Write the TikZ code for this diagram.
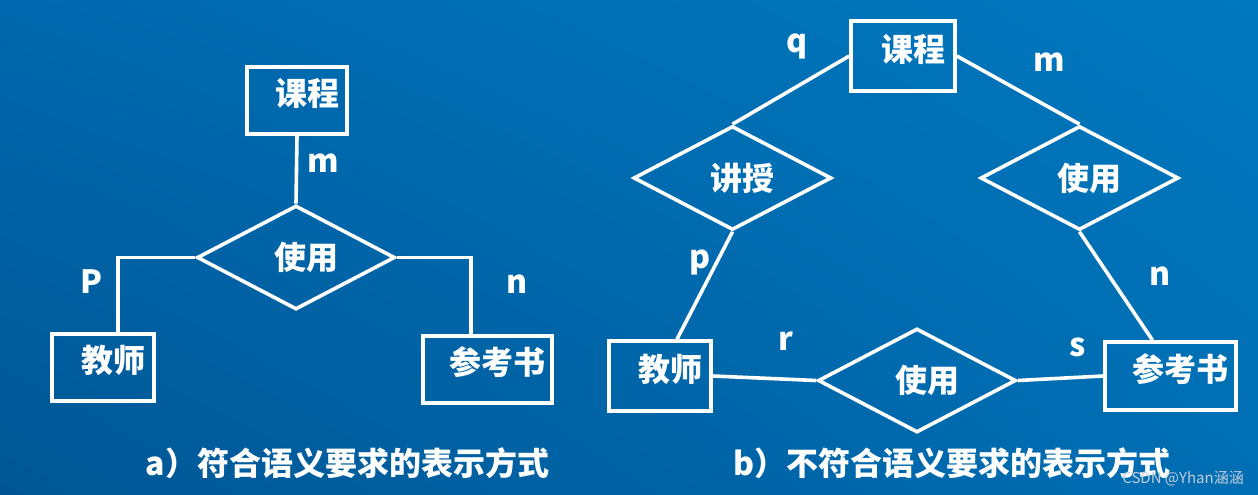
\documentclass[tikz,border=0pt]{standalone}
\usepackage{fontspec}
\setmainfont{Noto Sans CJK SC}
\usetikzlibrary{shapes.geometric,shadings}
\definecolor{bgTL}{RGB}{0,104,174}
\definecolor{bgTR}{RGB}{0,120,190}
\definecolor{bgBL}{RGB}{0,86,148}
\definecolor{bgBR}{RGB}{0,110,180}
\definecolor{wmark}{RGB}{196,206,218}
\newcommand{\boxtext}[1]{\raisebox{7pt}[\height][\depth]{\hspace*{20pt}#1}}
\begin{document}
\begin{tikzpicture}[x=1pt,y=-1pt,
  bigfont/.style={font=\fontsize{32}{34}\selectfont\bfseries},
  ent/.style={draw=white, line width=3.6pt, rectangle, minimum height=67.5pt,
    inner sep=0pt, text=white, bigfont},
  rel/.style={draw=white, line width=3.6pt, diamond, aspect=2, inner sep=0pt,
    minimum width=198pt, minimum height=104pt, text=white, bigfont},
  conn/.style={draw=white, line width=3.6pt},
  card/.style={text=white, bigfont, inner sep=0pt},
  captext/.style={text=white, bigfont, inner sep=0pt},
  wm/.style={text=wmark, font=\fontsize{15}{15}\selectfont, inner sep=0pt}
]
\shade[upper left=bgTL, upper right=bgTR, lower left=bgBL, lower right=bgBR]
  (0,0) rectangle (1258,495);
\useasboundingbox (0,0) rectangle (1258,495);

% ---------- a) ----------
\node[ent, minimum width=100pt] (LC) at (297,100.5) {\boxtext{课程}};
\node[rel] (LD) at (296,257.5) {\hspace*{20pt}使用};
\node[ent, minimum width=102pt] (LT) at (103,367.5) {\boxtext{教师}};
\node[ent, minimum width=129pt] (LB) at (487.5,369.5) {\boxtext{参考书}};

\draw[conn] (LC.south) -- (LD.north);
\draw[conn] (LD.west) -| ([xshift=15pt]LT.north);
\draw[conn] (LD.east) -| ([xshift=-16.5pt]LB.north);

\node[card] (Lm) at (323,163) {m};
\node[card] (LP) at (91,282) {P};
\node[card] (Ln) at (517,284) {n};

\node[captext] (capa) at (347.5,463) {a）符合语义要求的表示方式};

% ---------- b) ----------
\node[ent, minimum width=104pt, minimum height=70pt] (RC) at (903,56) {\boxtext{课程}};
\node[rel] (RD1) at (732.5,178) {\hspace*{20pt}讲授};
\node[rel] (RD2) at (1079.5,178) {\hspace*{20pt}使用};
\node[ent, minimum width=102pt, minimum height=70pt] (RT) at (660,376) {\boxtext{教师}};
\node[ent, minimum width=131pt, minimum height=68pt] (RB) at (1170.5,376) {\boxtext{参考书}};
\node[rel] (RD3) at (917,380.5) {\hspace*{20pt}使用};

\draw[conn] (RC.west) -- (RD1.north);
\draw[conn] (RC.east) -- (RD2.north);
\draw[conn] (RD1.south) -- ([xshift=17pt]RT.north);
\draw[conn] (RD2.south) -- ([xshift=-18pt]RB.north);
\draw[conn] (RT.east) -- (RD3.west);
\draw[conn] (RD3.east) -- (RB.west);

\node[card] (Rq) at (797,46) {q};
\node[card] (Rm) at (1049,62) {m};
\node[card] (Rp) at (700,262) {p};
\node[card] (Rn) at (1160,276) {n};
\node[card] (Rr) at (786,341) {r};
\node[card] (Rs) at (1078,347) {s};

\node[captext] (capb) at (952,463) {b）不符合语义要求的表示方式};

\node[wm, anchor=east] (wmk) at (1244,479) {CSDN @Yhan涵涵};
\end{tikzpicture}
\end{document}
